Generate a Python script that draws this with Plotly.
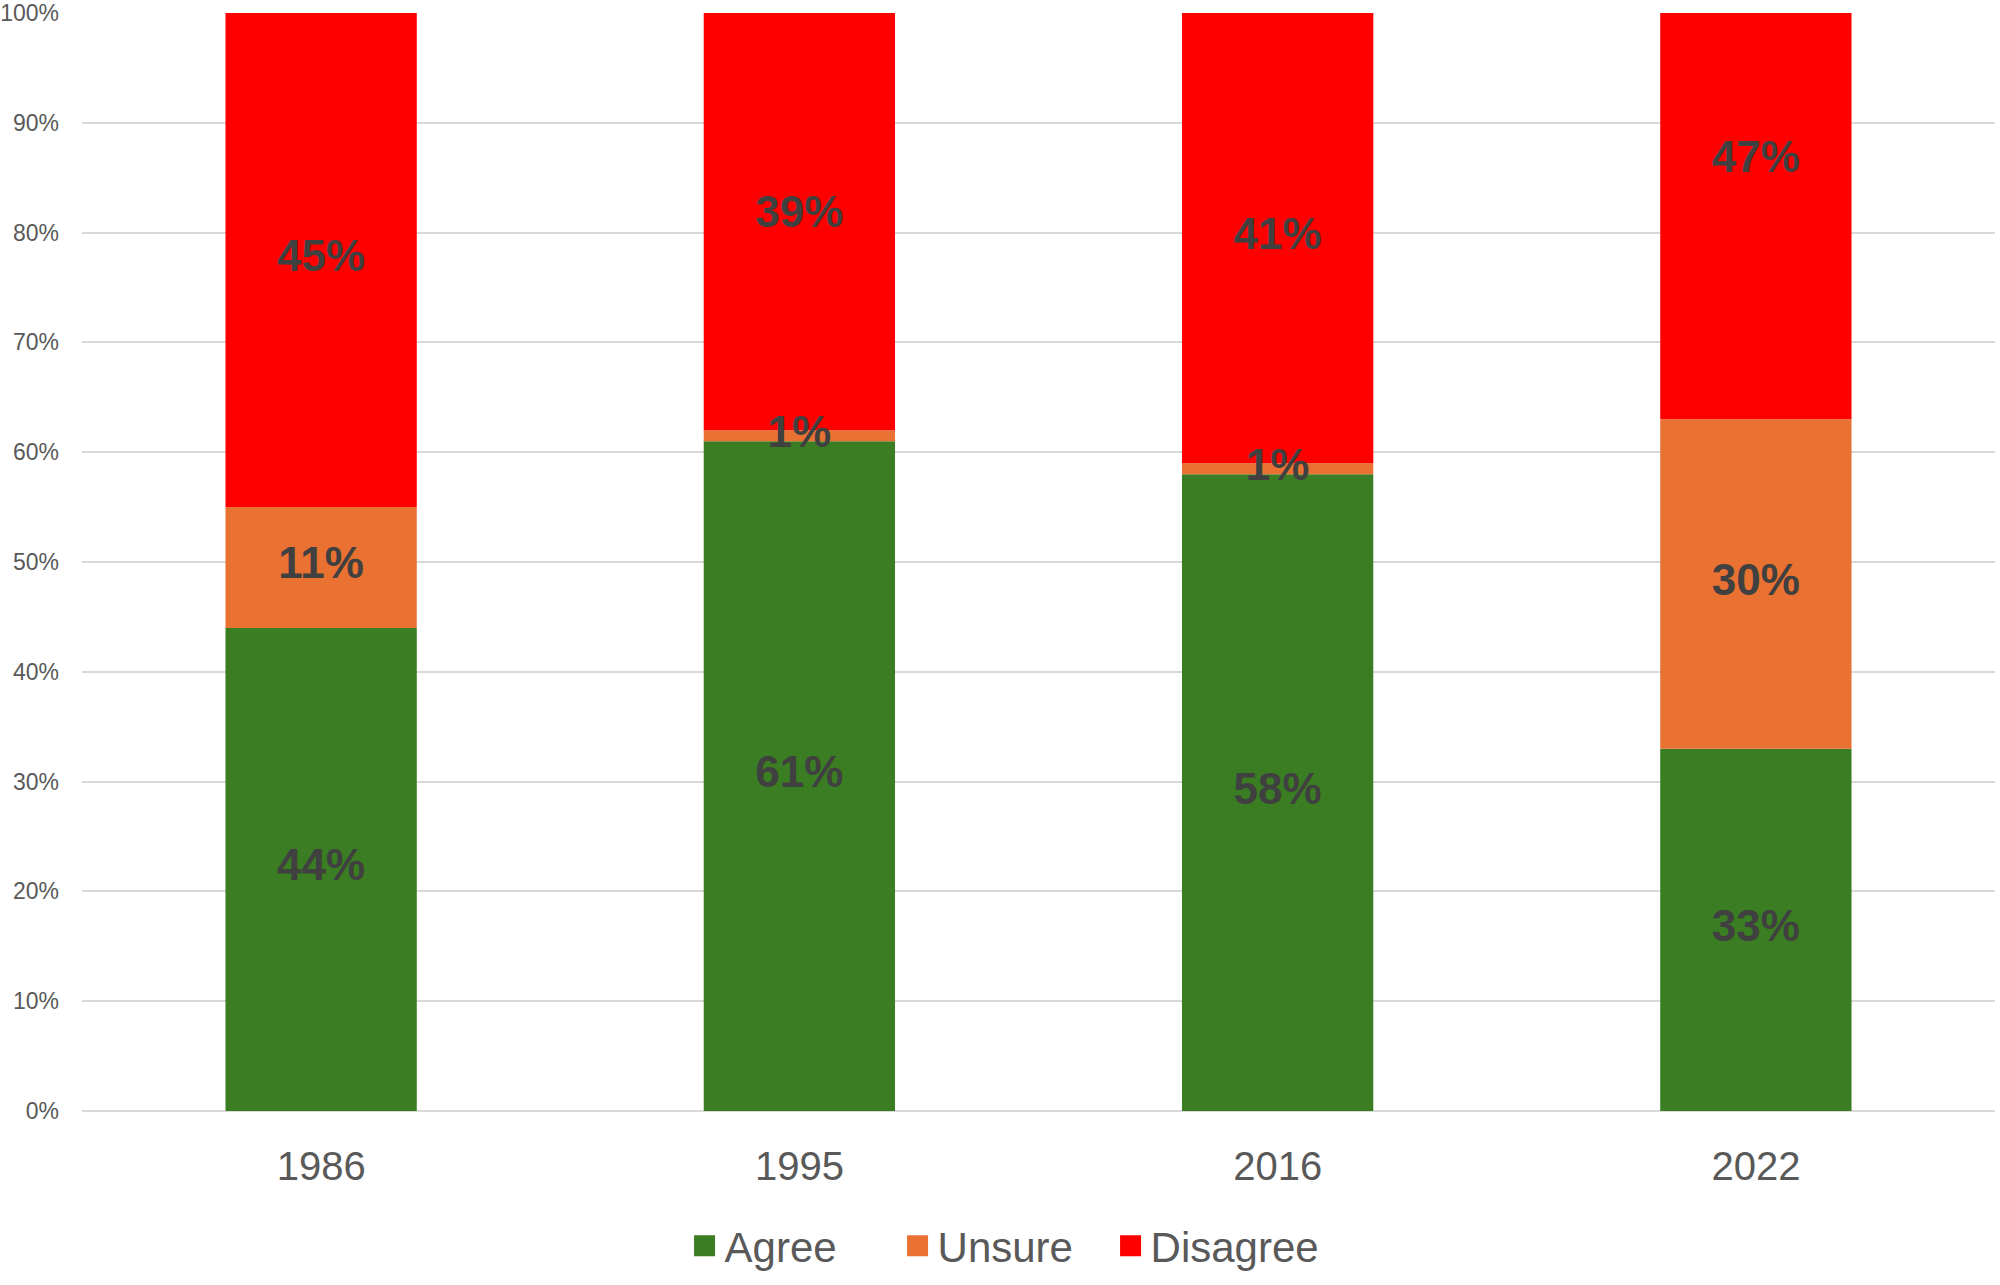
import plotly.graph_objects as go

years = ["1986", "1995", "2016", "2022"]
agree = [0.44, 0.61, 0.58, 0.33]
unsure = [0.11, 0.01, 0.01, 0.30]
disagree = [0.45, 0.39, 0.41, 0.47]
series_names = ["Agree", "Unsure", "Disagree"]
colors = ["#3A7D22", "#E97132", "#FF0000"]
y_ticks = [0, 0.1, 0.2, 0.3, 0.4, 0.5, 0.6, 0.7, 0.8, 0.9, 1.0]

FONT = "Liberation Sans, Arial, sans-serif"
series = [agree, unsure, disagree]

fig = go.Figure()
base = [0.0] * len(years)
for name, vals, col in zip(series_names, series, colors):
    fig.add_trace(go.Bar(
        x=years, y=vals, base=base, name=name,
        marker=dict(color=col, line=dict(width=0)),
        showlegend=False, hoverinfo="x+y+name",
    ))
    mids = [b + v / 2 for b, v in zip(base, vals)]
    fig.add_trace(go.Scatter(
        x=years, y=mids, mode="text",
        text=[f"{round(v * 100)}%" for v in vals],
        textposition="middle center",
        textfont=dict(family=FONT, size=44, color="#404040", weight="bold"),
        showlegend=False, hoverinfo="skip", cliponaxis=False,
    ))
    base = [b + v for b, v in zip(base, vals)]

for name, col in zip(series_names, colors):
    fig.add_trace(go.Scatter(
        x=[None], y=[None], mode="markers", name=name,
        marker=dict(symbol="square", size=16, color=col, line=dict(color=col, width=10)),
        showlegend=True,
    ))

fig.update_layout(
    width=2000, height=1285,
    margin=dict(l=82, r=5, t=13, b=156),
    paper_bgcolor="white", plot_bgcolor="white",
    barmode="overlay", bargap=0.6,
    font=dict(family=FONT, color="#595959"),
    legend=dict(
        orientation="h", x=0.482, xanchor="center", y=-0.123, yanchor="middle",
        font=dict(family=FONT, size=42, color="#595959"),
        itemsizing="trace", traceorder="normal",
        entrywidth=168, entrywidthmode="pixels",
    ),
)
fig.update_xaxes(
    type="category", showgrid=False, showline=False, zeroline=False,
    ticks="", tickfont=dict(family=FONT, size=40, color="#595959"),
    ticklabelstandoff=28, automargin=False,
)
fig.update_yaxes(
    range=[0, 1], tickvals=y_ticks, tickformat=".0%",
    showgrid=True, gridcolor="#D9D9D9", gridwidth=2,
    zeroline=True, zerolinecolor="#D9D9D9", zerolinewidth=2,
    showline=False, ticks="",
    tickfont=dict(family=FONT, size=23, color="#595959"),
    ticklabelstandoff=22, automargin=False,
)

fig.write_html(
    "out.html",
    config={"displayModeBar": False},
    post_script="document.body.style.margin='0';document.documentElement.style.overflow='hidden';",
)
